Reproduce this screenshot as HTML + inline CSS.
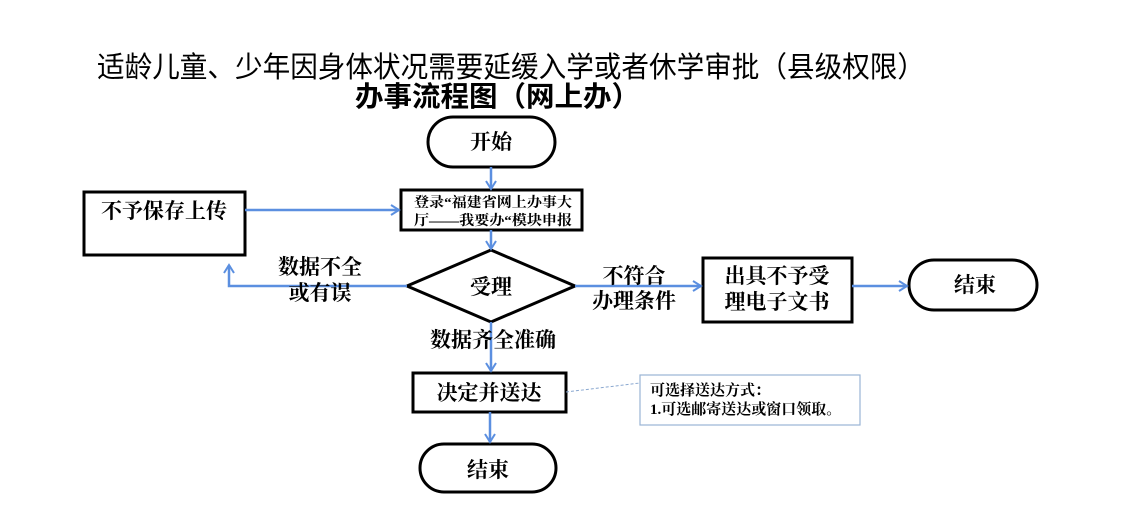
<!DOCTYPE html>
<html><head><meta charset="utf-8"><style>
html,body{margin:0;padding:0;background:#fff;}
svg{display:block;font-family:"Liberation Sans","Noto Sans CJK SC",sans-serif;}
.s{font-family:"Liberation Serif","Noto Serif CJK SC",serif;font-weight:bold;}
</style></head><body>
<svg width="1124" height="530" viewBox="0 0 1124 530" xmlns="http://www.w3.org/2000/svg">
<defs>
<marker id="a" markerWidth="12" markerHeight="12" refX="9" refY="6" orient="auto" markerUnits="userSpaceOnUse">
<path d="M1,1 L9,6 L1,11" fill="none" stroke="#5b8fe0" stroke-width="2"/>
</marker>
</defs>
<text x="97" y="77" font-size="29" textLength="828" lengthAdjust="spacingAndGlyphs" fill="#000">适龄儿童、少年因身体状况需要延缓入学或者休学审批（县级权限）</text>
<text x="355" y="106" font-size="28" font-weight="bold" textLength="285" lengthAdjust="spacingAndGlyphs" fill="#000">办事流程图（网上办）</text>

<g stroke="#000" stroke-width="3" fill="#fff">
<rect x="428" y="117" width="127" height="50" rx="25"/>
<rect x="401" y="190" width="181" height="40"/>
<rect x="84" y="192" width="161" height="63"/>
<polygon points="407,286 491,250 575,286 491,322"/>
<rect x="703" y="258" width="149" height="64"/>
<rect x="909" y="260" width="128" height="50" rx="25"/>
<rect x="413" y="373" width="153" height="39"/>
<rect x="420" y="444" width="136" height="48" rx="24"/>
</g>
<rect x="640" y="375" width="220" height="50" fill="#fff" stroke="#9ab4d4" stroke-width="1.2"/>
<line x1="566" y1="392" x2="640" y2="383" stroke="#8aa8d0" stroke-width="1" stroke-dasharray="3,2"/>

<g stroke="#5b8fe0" stroke-width="2.5" fill="none">
<line x1="491" y1="167" x2="491" y2="189" marker-end="url(#a)"/>
<line x1="245" y1="210" x2="399" y2="210" marker-end="url(#a)"/>
<line x1="491" y1="230" x2="491" y2="249" marker-end="url(#a)"/>
<polyline points="407,286 229,286 229,265" marker-end="url(#a)"/>
<line x1="575" y1="286" x2="701" y2="286" marker-end="url(#a)"/>
<line x1="852" y1="286" x2="907" y2="286" marker-end="url(#a)"/>
<line x1="491" y1="322" x2="491" y2="371" marker-end="url(#a)"/>
<line x1="490" y1="412" x2="490" y2="442" marker-end="url(#a)"/>
</g>

<g fill="#000" font-size="21" text-anchor="middle" class="s">
<text x="491" y="149">开始</text>
<text x="491" y="294">受理</text>
<text x="975" y="292">结束</text>
<text x="488" y="477">结束</text>
<text x="489" y="400">决定并送达</text>
<text x="777" y="283">出具不予受</text>
<text x="777" y="309">理电子文书</text>
<text x="164" y="218">不予保存上传</text>
<text x="320" y="274">数据不全</text>
<text x="320" y="300">或有误</text>
<text x="634" y="283">不符合</text>
<text x="634" y="308">办理条件</text>
<text x="493" y="347">数据齐全准确</text>
</g>
<g fill="#000" font-size="14" class="s">
<text x="414" y="207" textLength="158" lengthAdjust="spacingAndGlyphs">登录“福建省网上办事大</text>
<text x="414" y="225" textLength="158" lengthAdjust="spacingAndGlyphs">厅——我要办“模块申报</text>
<text x="650" y="395" font-size="15">可选择送达方式：</text>
<text x="650" y="414" font-size="15">1.可选邮寄送达或窗口领取。</text>
</g>
</svg>
</body></html>
